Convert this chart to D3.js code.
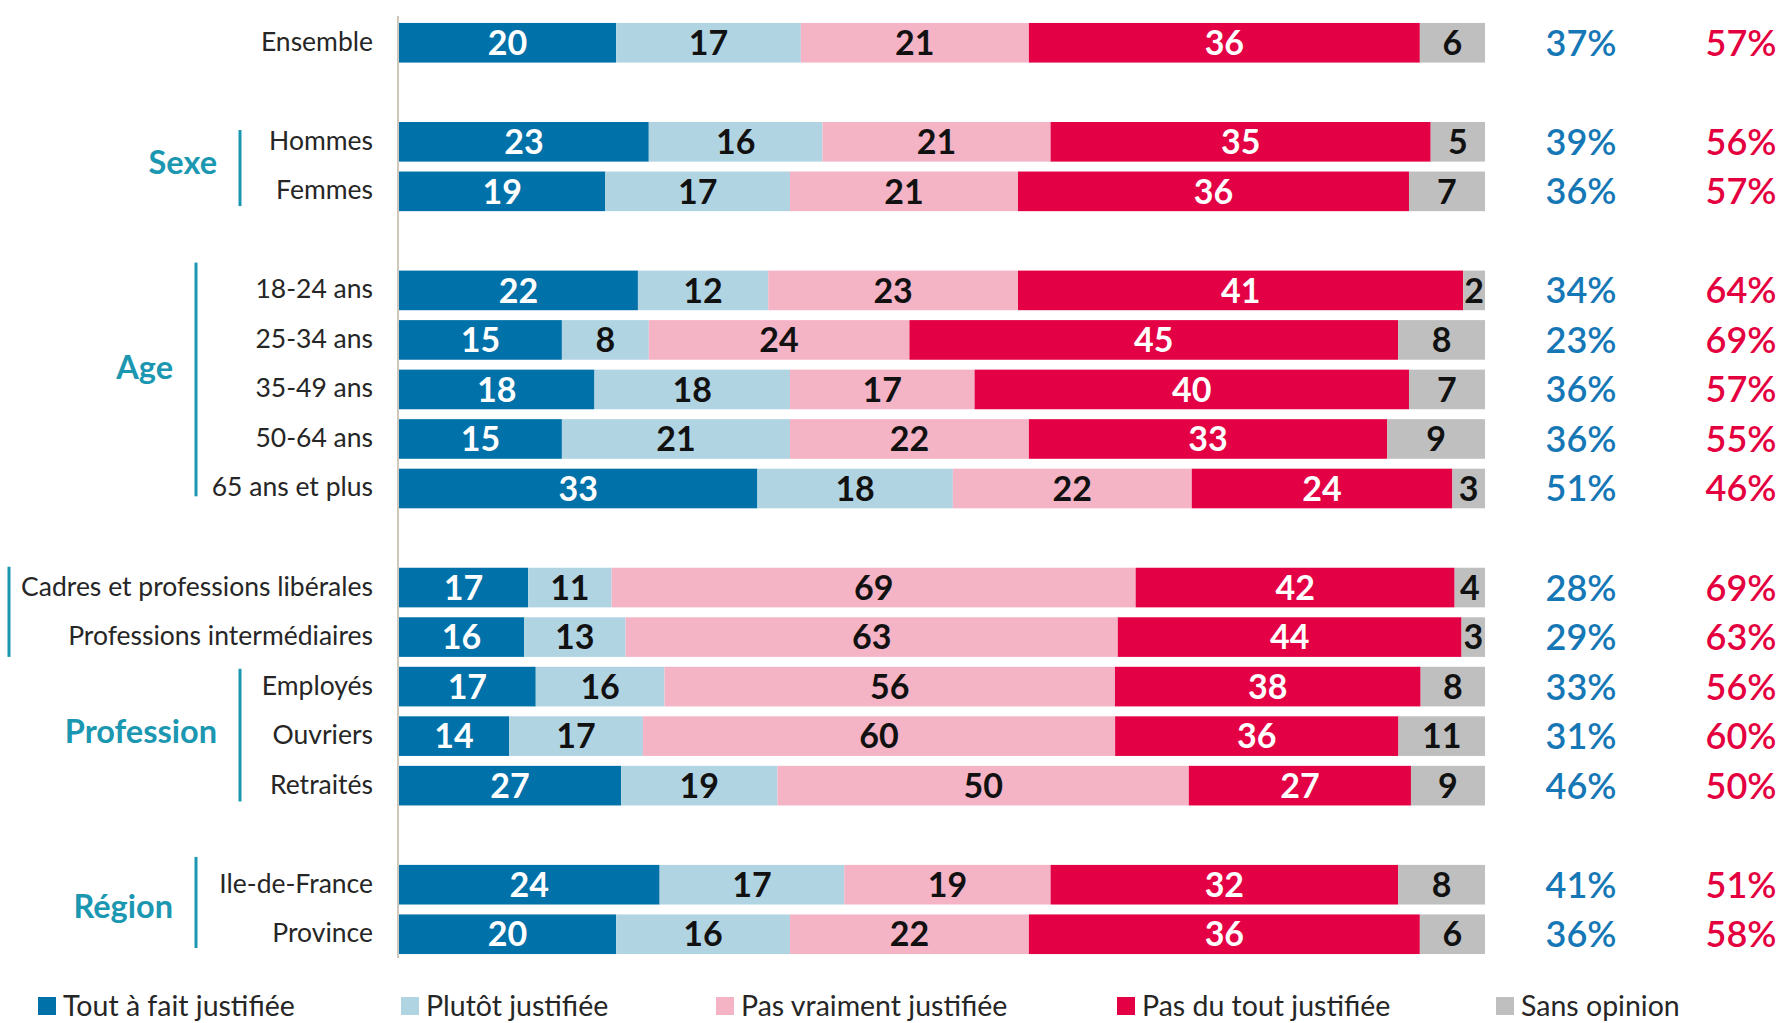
<!DOCTYPE html>
<html lang="fr">
<head>
<meta charset="utf-8">
<title>Justifiée / pas justifiée</title>
<script src="https://cdn.jsdelivr.net/npm/d3@7"></script>
<style>
  body { margin: 0; background: #fff; }
  svg { display: block; font-family: Lato, "Open Sans", sans-serif; }
</style>
</head>
<body>
<div id="chart"></div>
<script>
// rows, top to bottom
var categories = ["Ensemble", "Hommes", "Femmes",
  "18-24 ans", "25-34 ans", "35-49 ans", "50-64 ans", "65 ans et plus",
  "Cadres et professions libérales", "Professions intermédiaires", "Employés", "Ouvriers", "Retraités",
  "Ile-de-France", "Province"];
var rowGroup = [0, 1, 1, 2, 2, 2, 2, 2, 3, 3, 3, 3, 3, 4, 4];

var seriesNames = ["Tout à fait justifiée", "Plutôt justifiée", "Pas vraiment justifiée", "Pas du tout justifiée", "Sans opinion"];
var toutAFait   = [20, 23, 19, 22, 15, 18, 15, 33, 17, 16, 17, 14, 27, 24, 20];
var plutot      = [17, 16, 17, 12,  8, 18, 21, 18, 11, 13, 16, 17, 19, 17, 16];
var pasVraiment = [21, 21, 21, 23, 24, 17, 22, 22, 69, 63, 56, 60, 50, 19, 22];
var pasDuTout   = [36, 35, 36, 41, 45, 40, 33, 24, 42, 44, 38, 36, 27, 32, 36];
var sansOpinion = [ 6,  5,  7,  2,  8,  7,  9,  3,  4,  3,  8, 11,  9,  8,  6];

// totals printed on the right
var totalJustifiee    = [37, 39, 36, 34, 23, 36, 36, 51, 28, 29, 33, 31, 46, 41, 36];
var totalPasJustifiee = [57, 56, 57, 64, 69, 57, 55, 46, 69, 63, 56, 60, 50, 51, 58];

// brackets on the left
var bracketLabels = ["Sexe", "Age", "", "Profession", "Région"];
var bracketFirst  = ["Hommes", "18-24 ans", "Cadres et professions libérales", "Employés", "Ile-de-France"];
var bracketLast   = ["Femmes", "65 ans et plus", "Professions intermédiaires", "Retraités", "Province"];

var colors = ["#0071a9", "#b1d4e3", "#f5b3c6", "#e30044", "#bfbfbf"];
var textOn = ["#fff", "#111", "#111", "#fff", "#111"];
var teal = "#1b97b1";

var W = 1787, H = 1023;
// hand placed bits of the brackets (x, top / bottom nudge, label nudge)
var bracketX   = [240, 196, 9, 240, 196];
var bracketTop = [8, -8, -1, 2, -8];
var bracketBot = [-5, -12, 0, -4, -6];
var labelDy    = [-5, -12, 0, -4, 4];

var svg = d3.select("#chart").append("svg")
    .attr("width", W)
    .attr("height", H);

// one band per row, with an empty band between groups
var slots = [];
categories.forEach(function(c, i) {
  if (i > 0 && rowGroup[i] != rowGroup[i - 1]) slots.push("gap" + i);
  slots.push(c);
});

var y = d3.scaleBand()
  .domain(slots)
  .range([18, 959])
  .paddingInner(0.2)
  .paddingOuter(0.1);

var x = d3.scaleLinear()
  .domain([0, 1])
  .range([399, 1485]);

var table = categories.map(function(c, i) {
  return {cat: c, s0: toutAFait[i], s1: plutot[i], s2: pasVraiment[i], s3: pasDuTout[i], s4: sansOpinion[i]};
});
var keys = ["s0", "s1", "s2", "s3", "s4"];

var stacked = d3.stack()
  .keys(keys)
  .offset(d3.stackOffsetExpand)(table);

// axis line
svg.append("line")
  .attr("x1", x(0) - 1).attr("x2", x(0) - 1)
  .attr("y1", 16).attr("y2", 958)
  .attr("stroke", "#cfc6bc")
  .attr("stroke-width", 2);

var layer = svg.append("g").selectAll("g")
  .data(stacked).enter()
  .append("g");

layer.selectAll("rect")
  .data(function(d) { return d; })
  .enter().append("rect")
    .attr("x", function(d) { return x(d[0]); })
    .attr("y", function(d) { return y(d.data.cat); })
    .attr("width", function(d) { return x(d[1]) - x(d[0]); })
    .attr("height", y.bandwidth())
    .attr("fill", function(d) { return colors[keys.indexOf(this.parentNode.__data__.key)]; });

layer.each(function(s, k) {
  d3.select(this).selectAll("text")
    .data(s)
    .enter().append("text")
      .attr("x", function(d) { return (x(d[0]) + x(d[1])) / 2; })
      .attr("y", function(d) { return y(d.data.cat) + y.bandwidth() / 2; })
      .attr("dy", "0.36em")
      .attr("text-anchor", "middle")
      .attr("font-size", 34)
      .attr("font-weight", "bold")
      .attr("fill", textOn[k])
      .text(function(d) { return d.data[s.key]; });
});

// row labels
svg.append("g").selectAll("text")
  .data(categories).enter()
  .append("text")
    .attr("x", 373)
    .attr("y", function(d) { return y(d) + y.bandwidth() / 2; })
    .attr("dy", "0.3em")
    .attr("text-anchor", "end")
    .attr("font-size", 26.5)
    .attr("fill", "#262626")
    .text(function(d) { return d; });

// totals
svg.append("g").selectAll("text")
  .data(totalJustifiee).enter()
  .append("text")
    .attr("x", 1581)
    .attr("y", function(d, i) { return y(categories[i]) + y.bandwidth() / 2; })
    .attr("dy", "0.36em")
    .attr("text-anchor", "middle")
    .attr("font-size", 36)
    .attr("font-weight", 600)
    .attr("fill", "#1577b5")
    .text(function(d) { return d + "%"; });

svg.append("g").selectAll("text")
  .data(totalPasJustifiee).enter()
  .append("text")
    .attr("x", 1741)
    .attr("y", function(d, i) { return y(categories[i]) + y.bandwidth() / 2; })
    .attr("dy", "0.36em")
    .attr("text-anchor", "middle")
    .attr("font-size", 36)
    .attr("font-weight", 600)
    .attr("fill", "#e4003f")
    .text(function(d) { return d + "%"; });

// group brackets
bracketLabels.forEach(function(lab, i) {
  var y0 = y(bracketFirst[i]) + bracketTop[i],
      y1 = y(bracketLast[i]) + y.bandwidth() + bracketBot[i];
  svg.append("line")
    .attr("x1", bracketX[i]).attr("x2", bracketX[i])
    .attr("y1", y0).attr("y2", y1)
    .attr("stroke", teal)
    .attr("stroke-width", 3);
  if (lab) {
    svg.append("text")
      .attr("x", bracketX[i] - 23)
      .attr("y", (y0 + y1) / 2 + labelDy[i])
      .attr("dy", "0.35em")
      .attr("text-anchor", "end")
      .attr("font-size", 32.5)
      .attr("font-weight", "bold")
      .attr("fill", teal)
      .text(lab);
  }
});

// legend
var legendX = [38, 401, 716, 1117, 1496];
var legend = svg.append("g").selectAll("g")
  .data(seriesNames).enter()
  .append("g")
    .attr("transform", function(d, i) { return "translate(" + legendX[i] + ",997)"; });

legend.append("rect")
  .attr("width", 18).attr("height", 18)
  .attr("fill", function(d, i) { return colors[i]; });

legend.append("text")
  .attr("x", 25)
  .attr("y", 9)
  .attr("dy", "0.35em")
  .attr("font-size", 28.5)
  .attr("fill", "#262626")
  .text(function(d) { return d; });
</script>
</body>
</html>
